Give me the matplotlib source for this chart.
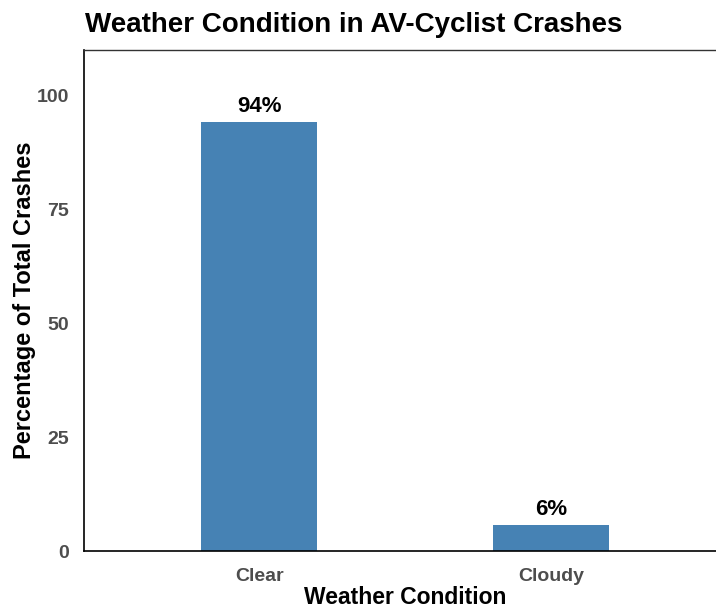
import matplotlib.pyplot as plt

conditions = ['Clear', 'Cloudy']
percentages = [94.2, 5.8]
labels = ['94%', '6%']
y_ticks = [0, 25, 50, 75, 100]

plt.rcParams['font.family'] = ['Liberation Sans', 'DejaVu Sans']

fig = plt.figure(figsize=(7.16, 6.12), dpi=100)
ax = fig.add_axes([84 / 716, 61 / 612, 642 / 716, 501 / 612])

x = [1, 2]
ax.bar(x, percentages, width=0.4, color='#4682B4')
for xi, p, lab in zip(x, percentages, labels):
    ax.text(xi, p + 1.0, lab, ha='center', va='bottom', fontsize=16,
            fontweight='bold', color='black')

ax.set_xlim(0.4, 2.6)
ax.set_ylim(0, 110)
ax.set_xticks(x)
ax.set_xticklabels(conditions)
ax.set_yticks(y_ticks)
ax.tick_params(length=0, labelsize=14, labelcolor='#4D4D4D')
ax.tick_params(axis='x', pad=12)
ax.tick_params(axis='y', pad=11)
for t in ax.get_xticklabels() + ax.get_yticklabels():
    t.set_fontweight('bold')

for s in ['left', 'bottom']:
    ax.spines[s].set_linewidth(1.2)
ax.spines['top'].set_linewidth(1.0)
ax.spines['top'].set_color('#333333')
ax.spines['right'].set_visible(False)

ax.set_xlabel('Weather Condition', fontsize=16.5, fontweight='bold', labelpad=1)
ax.set_ylabel('Percentage of Total Crashes', fontsize=17, fontweight='bold', labelpad=0)
fig.text(85 / 716, 1 - 25 / 612, 'Weather Condition in AV-Cyclist Crashes',
         fontsize=20, fontweight='bold', ha='left', va='center')

fig.savefig('out.png', dpi=100)
